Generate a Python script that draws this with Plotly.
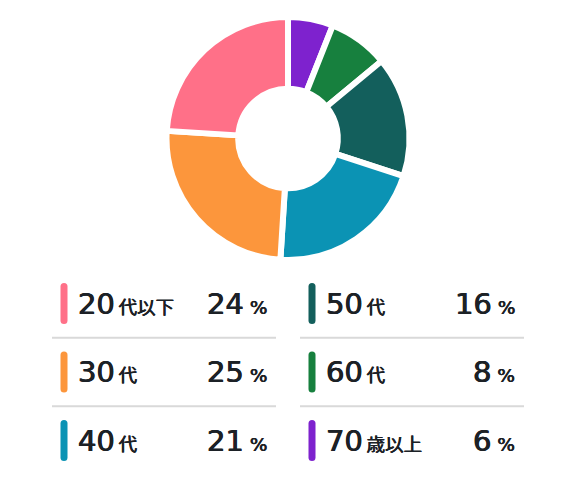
import plotly.graph_objects as go

# Age groups and their shares (%)
age_labels = ['20代以下', '30代', '40代', '50代', '60代', '70歳以上']
shares = [24, 25, 21, 16, 8, 6]
colors = ['#FF7088', '#FC963C', '#0B93B4', '#135F5C', '#17803E', '#7E22CE']

TEXT = '#1C2126'
FONT = 'DejaVu Sans, Noto Sans CJK JP'
# a slight same-colour shadow gives the semibold look of the original
SEMI = f'0.4px 0 0 {TEXT}, -0.4px 0 0 {TEXT}'

fig = go.Figure()

# slices run clockwise from 12 o'clock starting with the oldest group
fig.add_trace(go.Pie(
    labels=age_labels[::-1],
    values=shares[::-1],
    hole=0.41,
    sort=False,
    direction='clockwise',
    rotation=0,
    marker=dict(colors=colors[::-1], line=dict(color='white', width=6)),
    textinfo='none',
    hovertemplate='%{label}: %{value}%<extra></extra>',
    domain=dict(x=[0, 1], y=[1 - 260 / 480, 1 - 17 / 480]),
    showlegend=False,
))

# a hidden pixel-like axis for the custom legend table
fig.add_trace(go.Scatter(x=[], y=[], showlegend=False, hoverinfo='skip'))


def rounded_bar(cx, y0, y1, w):
    r = w / 2
    x0, x1 = cx - r, cx + r
    return (f'M {x0},{y0 + r} Q {x0},{y0} {cx},{y0} Q {x1},{y0} {x1},{y0 + r} '
            f'L {x1},{y1 - r} Q {x1},{y1} {cx},{y1} Q {x0},{y1} {x0},{y1 - r} Z')


small = "<span style='font-size:18.5px'>"

shapes = []
annotations = []
col_dx = 248
row_dy = 68.5
for i, (lab, val, col) in enumerate(zip(age_labels, shares, colors)):
    c, r = divmod(i, 3)
    dx = c * col_dx
    yc = 303.5 + r * row_dy
    shapes.append(dict(type='path', path=rounded_bar(64 + dx, yc - 20.5, yc + 20.5, 7),
                       xref='x', yref='y', fillcolor=col, line=dict(width=0)))
    if r < 2:
        ys = yc + row_dy / 2
        shapes.append(dict(type='line', xref='x', yref='y', x0=52 + dx, x1=276 + dx,
                           y0=ys, y1=ys, line=dict(color='#D9D9D9', width=2)))
    num, suffix = lab[:2], lab[2:]
    annotations.append(dict(
        x=76 + dx, y=yc, xref='x', yref='y', xanchor='left', yanchor='middle',
        showarrow=False,
        text=f"{num}{small}\u2009{suffix}</span>",
        font=dict(family=FONT, size=29, color=TEXT, shadow=SEMI),
    ))
    annotations.append(dict(
        x=269 + dx, y=yc, xref='x', yref='y', xanchor='right', yanchor='middle',
        showarrow=False,
        text=f"{val}{small} %</span>",
        font=dict(family=FONT, size=29, color=TEXT, shadow=SEMI),
    ))

fig.update_layout(
    width=576, height=480,
    margin=dict(l=0, r=0, t=0, b=0),
    paper_bgcolor='white', plot_bgcolor='rgba(0,0,0,0)',
    xaxis=dict(range=[0, 576], visible=False, fixedrange=True),
    yaxis=dict(range=[480, 0], visible=False, fixedrange=True),
    shapes=shapes,
    annotations=annotations,
    font=dict(family=FONT, color=TEXT),
)

fig.write_html('out.html', config={'displayModeBar': False},
               post_script="document.body.style.margin='0';")
